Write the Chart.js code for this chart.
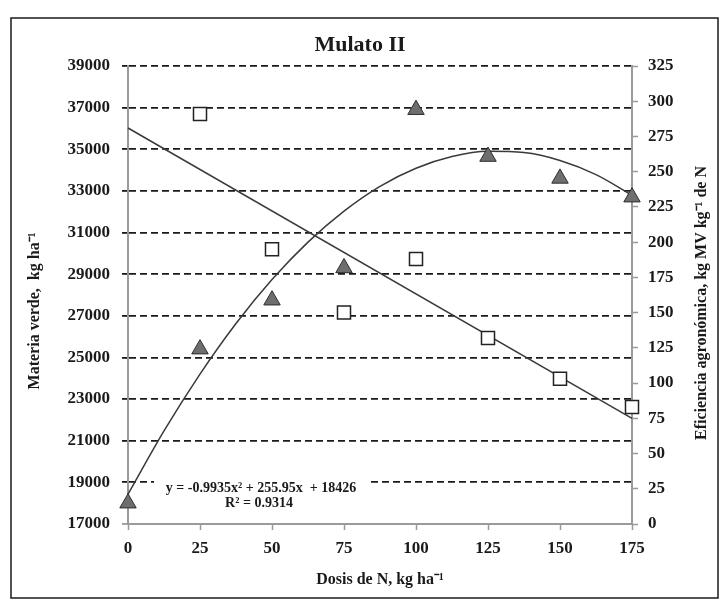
<!DOCTYPE html>
<html>
<head>
<meta charset="utf-8">
<script src="https://cdn.jsdelivr.net/npm/chart.js@4.4.1/dist/chart.umd.min.js"></script>
<style>
html,body{margin:0;padding:0;background:#fff}
#wrap{width:720px;height:606px;position:relative}
</style>
</head>
<body>
<div id="wrap"><canvas id="c" width="720" height="606"></canvas></div>
<script>
// ---- data ----
const doses = [0, 25, 50, 75, 100, 125, 150, 175];
const materiaVerde = [18000, 25400, 27750, 29300, 36900, 34650, 33600, 32700];
const eficienciaDoses = [25, 50, 75, 100, 125, 150, 175];
const eficiencia = [291, 195, 150, 188, 132, 103, 83];
// fitted quadratic curve (materia verde)
const curveDoses = [0, 12.5, 25, 37.5, 50, 62.5, 75, 87.5, 100, 112.5, 125, 137.5, 150, 162.5, 175];
const curveValues = [18430, 21470, 24200, 26630, 28740, 30540, 32030, 33220, 34090, 34650, 34900, 34840, 34460, 33780, 32790];
// linear trend (eficiencia agronómica)
const trendDoses = [0, 175];
const trendValues = [281, 75];
// tick labels
const xTicks = [0, 25, 50, 75, 100, 125, 150, 175];
const leftTicks = [17000, 19000, 21000, 23000, 25000, 27000, 29000, 31000, 33000, 35000, 37000, 39000];
const rightTicks = [0, 25, 50, 75, 100, 125, 150, 175, 200, 225, 250, 275, 300, 325];
// texts
const titleText = 'Mulato II';
const xTitle = 'Dosis de N, kg ha\u207B\u00B9';
const leftTitle = 'Materia verde,  kg ha\u207B\u00B9';
const rightTitle = 'Eficiencia agronómica, kg MV kg\u207B\u00B9 de N';
const eqLine1 = 'y = -0.9935x\u00B2 + 255.95x  + 18426';
const eqLine2 = 'R\u00B2 = 0.9314';

const SERIF = '"Liberation Serif", "Times New Roman", serif';
const tickFont = {family: SERIF, size: 17, weight: 'bold'};

const pts = (xs, ys) => xs.map((x, i) => ({x: x, y: ys[i]}));
const setTicks = arr => (scale) => { scale.ticks = arr.map(v => ({value: v})); };
const plain = v => String(v);

const decor = {
  id: 'decor',
  beforeDraw(chart) {
    const ctx = chart.ctx;
    ctx.save();
    ctx.fillStyle = '#fff';
    ctx.fillRect(0, 0, chart.width, chart.height);
    ctx.restore();
  },
  afterDraw(chart) {
    const ctx = chart.ctx;
    ctx.save();
    // frame
    ctx.strokeStyle = '#1a1a1a';
    ctx.lineWidth = 1.5;
    ctx.strokeRect(11, 18, 707, 580);
    // axis titles
    ctx.fillStyle = '#1a1a1a';
    ctx.font = 'bold 16px ' + SERIF;
    ctx.textAlign = 'center';
    ctx.textBaseline = 'middle';
    ctx.fillText(xTitle, 380, 580);
    ctx.save(); ctx.translate(35, 311); ctx.rotate(-Math.PI / 2); ctx.fillText(leftTitle, 0, 0); ctx.restore();
    ctx.save(); ctx.translate(702, 303); ctx.rotate(-Math.PI / 2); ctx.fillText(rightTitle, 0, 0); ctx.restore();
    // equation box
    ctx.fillStyle = '#fff';
    ctx.fillRect(154, 478, 214, 18);
    ctx.fillStyle = '#1a1a1a';
    ctx.font = 'bold 14px ' + SERIF;
    ctx.fillText(eqLine1, 261, 488);
    ctx.fillText(eqLine2, 259, 503);
    ctx.restore();
  }
};

new Chart(document.getElementById('c'), {
  type: 'scatter',
  data: {
    datasets: [
      {
        label: 'Materia verde',
        data: pts(doses, materiaVerde),
        yAxisID: 'y',
        pointStyle: 'triangle',
        pointRadius: 9.5,
        pointHoverRadius: 9.5,
        backgroundColor: '#6e6e6e',
        borderColor: '#2e2e2e',
        borderWidth: 1,
        clip: false,
        order: 1
      },
      {
        label: 'Eficiencia agronómica',
        data: pts(eficienciaDoses, eficiencia),
        yAxisID: 'y1',
        pointStyle: 'rect',
        pointRadius: 9.2,
        pointHoverRadius: 9.2,
        backgroundColor: '#ffffff',
        borderColor: '#222',
        borderWidth: 1.5,
        clip: false,
        order: 1
      },
      {
        label: 'Ajuste cuadrático',
        data: pts(curveDoses, curveValues),
        yAxisID: 'y',
        showLine: true,
        pointRadius: 0,
        borderColor: '#3a3a3a',
        borderWidth: 1.5,
        cubicInterpolationMode: 'monotone',
        clip: false,
        order: 2
      },
      {
        label: 'Tendencia lineal',
        data: pts(trendDoses, trendValues),
        yAxisID: 'y1',
        showLine: true,
        pointRadius: 0,
        borderColor: '#3a3a3a',
        borderWidth: 1.5,
        clip: false,
        order: 2
      }
    ]
  },
  options: {
    responsive: false,
    animation: false,
    devicePixelRatio: 1,
    layout: {padding: 0},
    plugins: {
      legend: {display: false},
      tooltip: {enabled: false},
      title: {
        display: true,
        text: titleText,
        color: '#1a1a1a',
        font: {family: SERIF, size: 22, weight: 'bold', lineHeight: 1.2},
        padding: {top: 32, bottom: 7.6}
      }
    },
    scales: {
      x: {
        type: 'linear',
        min: 0, max: 175,
        afterBuildTicks: setTicks(xTicks),
        grid: {drawOnChartArea: false, drawTicks: true, tickLength: 6, tickColor: '#9a9a9a', tickWidth: 1.5},
        border: {color: '#9a9a9a', width: 2},
        ticks: {font: tickFont, color: '#1a1a1a', padding: 8, maxRotation: 0, callback: plain},
        afterFit(s) { s.height = 82; }
      },
      y: {
        type: 'linear',
        position: 'left',
        min: 17000, max: 39000,
        afterBuildTicks: setTicks(leftTicks),
        grid: {
          color: c => (c.tick && c.tick.value === 17000) ? 'rgba(0,0,0,0)' : '#1a1a1a',
          lineWidth: 1.8,
          tickLength: 6,
          tickColor: c => (c.tick && c.tick.value === 17000) ? '#9a9a9a' : '#1a1a1a',
          tickWidth: 1.8
        },
        border: {color: '#9a9a9a', width: 2, dash: [7, 4]},
        ticks: {font: tickFont, color: '#1a1a1a', padding: 12, callback: plain},
        afterFit(s) { s.width = 128; }
      },
      y1: {
        type: 'linear',
        position: 'right',
        min: 0, max: 325,
        afterBuildTicks: setTicks(rightTicks),
        grid: {drawOnChartArea: false, drawTicks: true, tickLength: 6, tickColor: '#9a9a9a', tickWidth: 1.5},
        border: {color: '#9a9a9a', width: 2},
        ticks: {font: tickFont, color: '#1a1a1a', padding: 10, callback: plain},
        afterFit(s) { s.width = 88; }
      }
    }
  },
  plugins: [decor]
});
</script>
</body>
</html>
